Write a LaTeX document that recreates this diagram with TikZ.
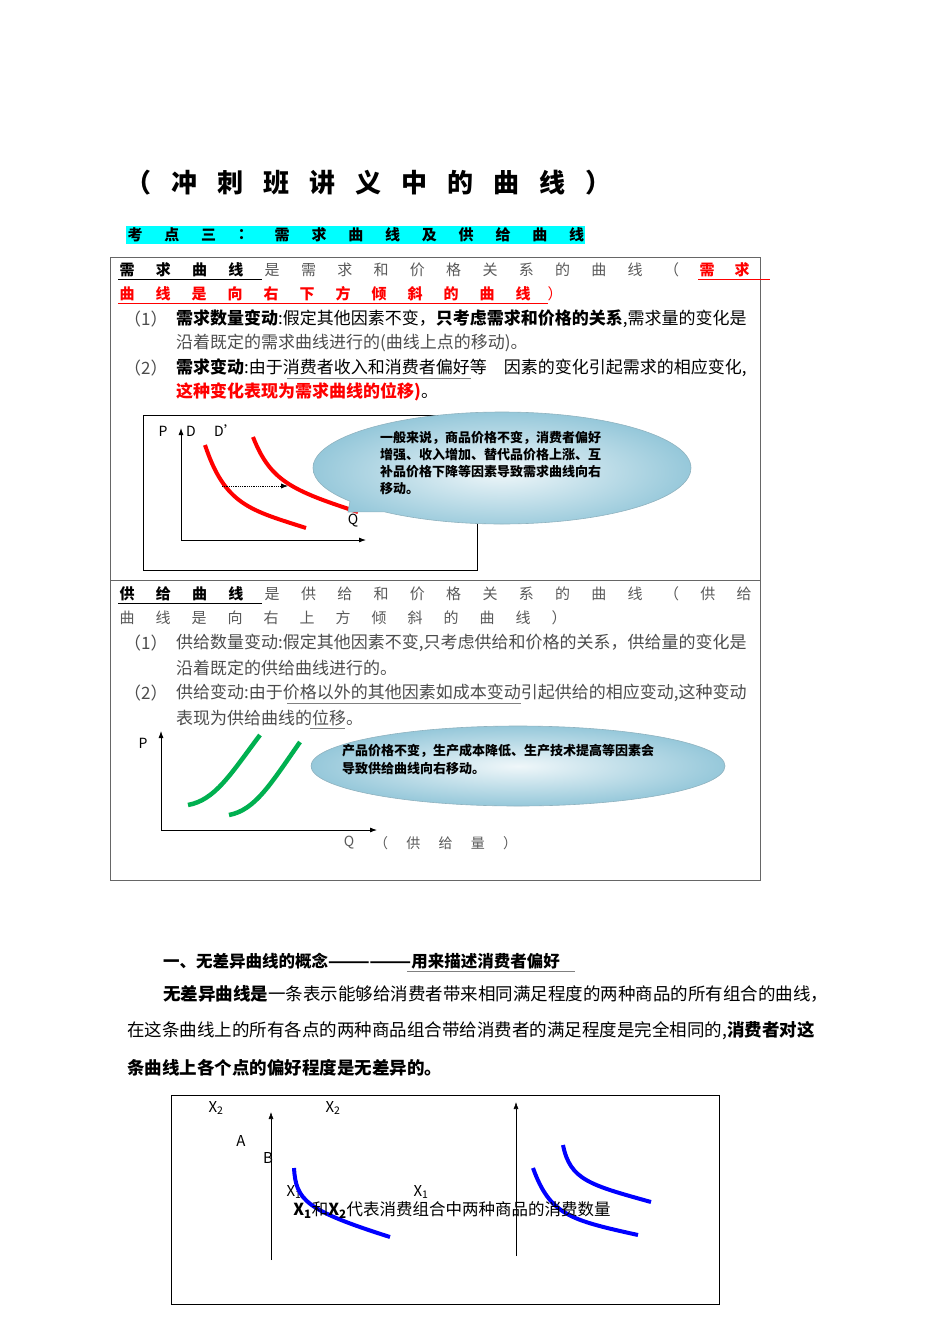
\documentclass[tikz,border=0pt]{standalone}
\usepackage{fontspec}
\setmainfont{Noto Sans CJK SC}
\usetikzlibrary{shapes.callouts,shapes.geometric,arrows.meta}
\definecolor{bub}{RGB}{150,200,218}
\definecolor{hl}{RGB}{0,255,255}
\definecolor{gr}{RGB}{0,176,80}
\tikzset{
 txt/.style={inner sep=0pt,font=\fontsize{15}{15}\selectfont},
 lt/.style={inner sep=0pt,anchor=west,font=\fontsize{17}{17}\selectfont},
 bub/.style={ellipse callout,draw=bub!70!gray,inner color=white!85!bub,outer color=bub,line width=0.6pt},
 bub2/.style={ellipse,draw=bub!70!gray,inner color=white!85!bub,outer color=bub,line width=0.6pt},
 ax/.style={-{Latex[length=7pt,width=5pt]},line width=0.8pt},
 dem/.style={red,line width=4pt},
 sup/.style={gr,line width=4.5pt},
 ind/.style={blue,line width=4pt},
}
\begin{document}
\begin{tikzpicture}[x=1pt,y=-1pt]
\useasboundingbox (0,0) rectangle (950,1344);
% title
\foreach \c [count=\i] in {（,冲,刺,班,讲,义,中,的,曲,线,）}
  \node[txt,font=\fontsize{26}{26}\selectfont\bfseries] at ({138+46*(\i-1)},183) {\c};
\fill[hl] (126,226) rectangle (585,244);
\foreach \c [count=\i] in {考,点,三,：,需,求,曲,线,及,供,给,曲,线}
  \node[txt,font=\fontsize{15}{15}\selectfont\bfseries] at ({135+36.8*(\i-1)},235) {\c};
% boxes
\draw[gray!80!black] (110,257) rectangle (760,580);
\draw[gray!80!black] (110,580) rectangle (760,880);
% demand text
\foreach \c [count=\i] in {需,求,曲,线,是,需,求,和,价,格,关,系,的,曲,线,（}{
  \pgfmathsetmacro\xx{127+36.3*(\i-1)}
  \ifnum\i<5 \node[txt,font=\fontsize{15}{15}\selectfont\bfseries] at (\xx,270) {\c};
  \else \node[txt,gray!70!black] at (\xx,270) {\c};\fi}
\node[txt,red,font=\fontsize{15}{15}\selectfont\bfseries] at (707,270) {需};
\node[txt,red,font=\fontsize{15}{15}\selectfont\bfseries] at (742,270) {求};
\draw (118,279) -- (262,279);
\draw[red] (698,279) -- (770,279);
\foreach \c [count=\i] in {曲,线,是,向,右,下,方,倾,斜,的,曲,线}
  \node[txt,red,font=\fontsize{15}{15}\selectfont\bfseries] at ({127+36*(\i-1)},294) {\c};
\node[txt,red] at (555,294) {）};
\draw[red] (118,303) -- (548,303);
\node[lt,gray!60!black] at (124,319) {（1）};
\node[lt] at (176,319) {\textbf{需求数量变动}:假定其他因素不变，\textbf{只考虑需求和价格的关系},需求量的变化是};
\node[lt,gray!60!black] at (176,343) {沿着既定的需求曲线进行的(曲线上点的移动)。};
\node[lt,gray!60!black] at (124,368) {（2）};
\node[lt] (l2) at (176,368) {\textbf{需求变动}:由于消费者收入和消费者偏好等\quad 因素的变化引起需求的相应变化,};
\draw[gray] (287,378) -- (471,378);
\node[lt,red,font=\fontsize{17}{17}\selectfont\bfseries] (l3) at (176,392) {这种变化表现为需求曲线的位移)\textcolor{black}{\mdseries 。}};
% figure 1
\draw (143,415) rectangle (477,570);
\draw[ax] (181,540) -- (181,428);
\draw[ax] (181,540) -- (366,540);
\node[txt,font=\fontsize{14}{14}\selectfont] at (163,431) {P};
\node[txt,font=\fontsize{14}{14}\selectfont] at (191,431) {D};
\node[txt,font=\fontsize{14}{14}\selectfont] at (226,431) {D’};
\node[txt,font=\fontsize{14}{14}\selectfont] at (353,521) {Q};
\draw[dem] (205,445) .. controls (225,505) and (250,510) .. (306,528);
\draw[dem] (253,437) .. controls (270,480) and (290,490) .. (358,512);
\draw[densely dotted,-{Latex[length=7pt]},line width=0.8pt] (222,486) -- (288,486);
\node[bub,minimum width=378pt,minimum height=112pt,callout absolute pointer={(348,512)}] (b1) at (502,468) {};
\node[txt,anchor=north west,align=left,font=\fontsize{13}{17}\selectfont\bfseries] at (380,431) {一般来说，商品价格不变，消费者偏好\\增强、收入增加、替代品价格上涨、互\\补品价格下降等因素导致需求曲线向右\\移动。};
% supply text
\foreach \c [count=\i] in {供,给,曲,线,是,供,给,和,价,格,关,系,的,曲,线,（,供,给}{
  \pgfmathsetmacro\xx{127+36.3*(\i-1)}
  \ifnum\i<5 \node[txt,font=\fontsize{15}{15}\selectfont\bfseries] at (\xx,594) {\c};
  \else \node[txt,gray!70!black] at (\xx,594) {\c};\fi}
\draw (118,603) -- (262,603);
\foreach \c [count=\i] in {曲,线,是,向,右,上,方,倾,斜,的,曲,线,）}
  \node[txt,gray!70!black] at ({127+36*(\i-1)},618) {\c};
\node[lt,gray!60!black] at (124,643) {（1）};
\node[lt,gray!60!black] at (176,643) {供给数量变动:假定其他因素不变,只考虑供给和价格的关系，供给量的变化是};
\node[lt,gray!60!black] at (176,668) {沿着既定的供给曲线进行的。};
\node[lt,gray!60!black] at (124,693) {（2）};
\node[lt,gray!60!black] at (176,693) {供给变动:由于价格以外的其他因素如成本变动引起供给的相应变动,这种变动};
\draw[gray] (287,703) -- (521,703);
\node[lt,gray!60!black] at (176,718) {表现为供给曲线的位移。};
\draw[gray] (310,728) -- (345,728);
% figure 2
\draw[ax] (161,830) -- (161,731);
\draw[ax] (161,830) -- (377,830);
\node[txt,font=\fontsize{14}{14}\selectfont] at (143,743) {P};
\foreach \c [count=\i] in {Q,（,供,给,量,）}
  \node[txt,gray!70!black,font=\fontsize{14}{14}\selectfont] at ({349+32.2*(\i-1)},843) {\c};
\draw[sup] (188,805) .. controls (215,800) and (230,775) .. (260,735);
\draw[sup] (229,815) .. controls (255,810) and (270,785) .. (300,742);
\node[bub2,minimum width=414pt,minimum height=80pt] (b2) at (518,766) {};
\node[txt,anchor=north west,align=left,font=\fontsize{13}{18}\selectfont\bfseries] at (342,744) {产品价格不变，生产成本降低、生产技术提高等因素会\\导致供给曲线向右移动。};
% bottom text
\node[lt,font=\fontsize{16.5}{16.5}\selectfont\bfseries] at (163,961) {一、无差异曲线的概念——————用来描述消费者偏好};
\draw[gray] (407,971) -- (575,971);
\node[lt,font=\fontsize{17.5}{17.5}\selectfont] at (163,994) {\textbf{无差异曲线是}一条表示能够给消费者带来相同满足程度的两种商品的所有组合的曲线，};
\node[lt,font=\fontsize{17.5}{17.5}\selectfont] at (127,1031) {在这条曲线上的所有各点的两种商品组合带给消费者的满足程度是完全相同的,\textbf{消费者对这}};
\node[lt,font=\fontsize{17.5}{17.5}\selectfont\bfseries] at (127,1068) {条曲线上各个点的偏好程度是无差异的。};
% figure 3
\draw[line width=0.9pt] (171,1095) rectangle (719,1304);
\draw[ax,line width=0.6pt] (271,1260) -- (271,1112);
\draw[ax,line width=0.6pt] (516,1256) -- (516,1102);
\begin{scope}[font=\fontsize{12}{12}\selectfont]
\node[txt] at (216,1108) {X\textsubscript{2}};
\node[txt] at (333,1108) {X\textsubscript{2}};
\node[txt] at (241,1141) {A};
\node[txt] at (268,1158) {B};
\node[txt] at (294,1192) {X\textsubscript{1}};
\node[txt] at (421,1192) {X\textsubscript{1}};
\end{scope}
\draw[ind] (294,1168) .. controls (296,1200) and (305,1210) .. (390,1237);
\draw[ind] (533,1168) .. controls (550,1215) and (570,1220) .. (638,1235);
\draw[ind] (563,1145) .. controls (570,1180) and (590,1185) .. (651,1202);
\node[txt,font=\fontsize{16.5}{16.5}\selectfont] at (452,1210) {\textbf{X\textsubscript{1}}和\textbf{X\textsubscript{2}}代表消费组合中两种商品的消费数量};
\end{tikzpicture}
\end{document}
